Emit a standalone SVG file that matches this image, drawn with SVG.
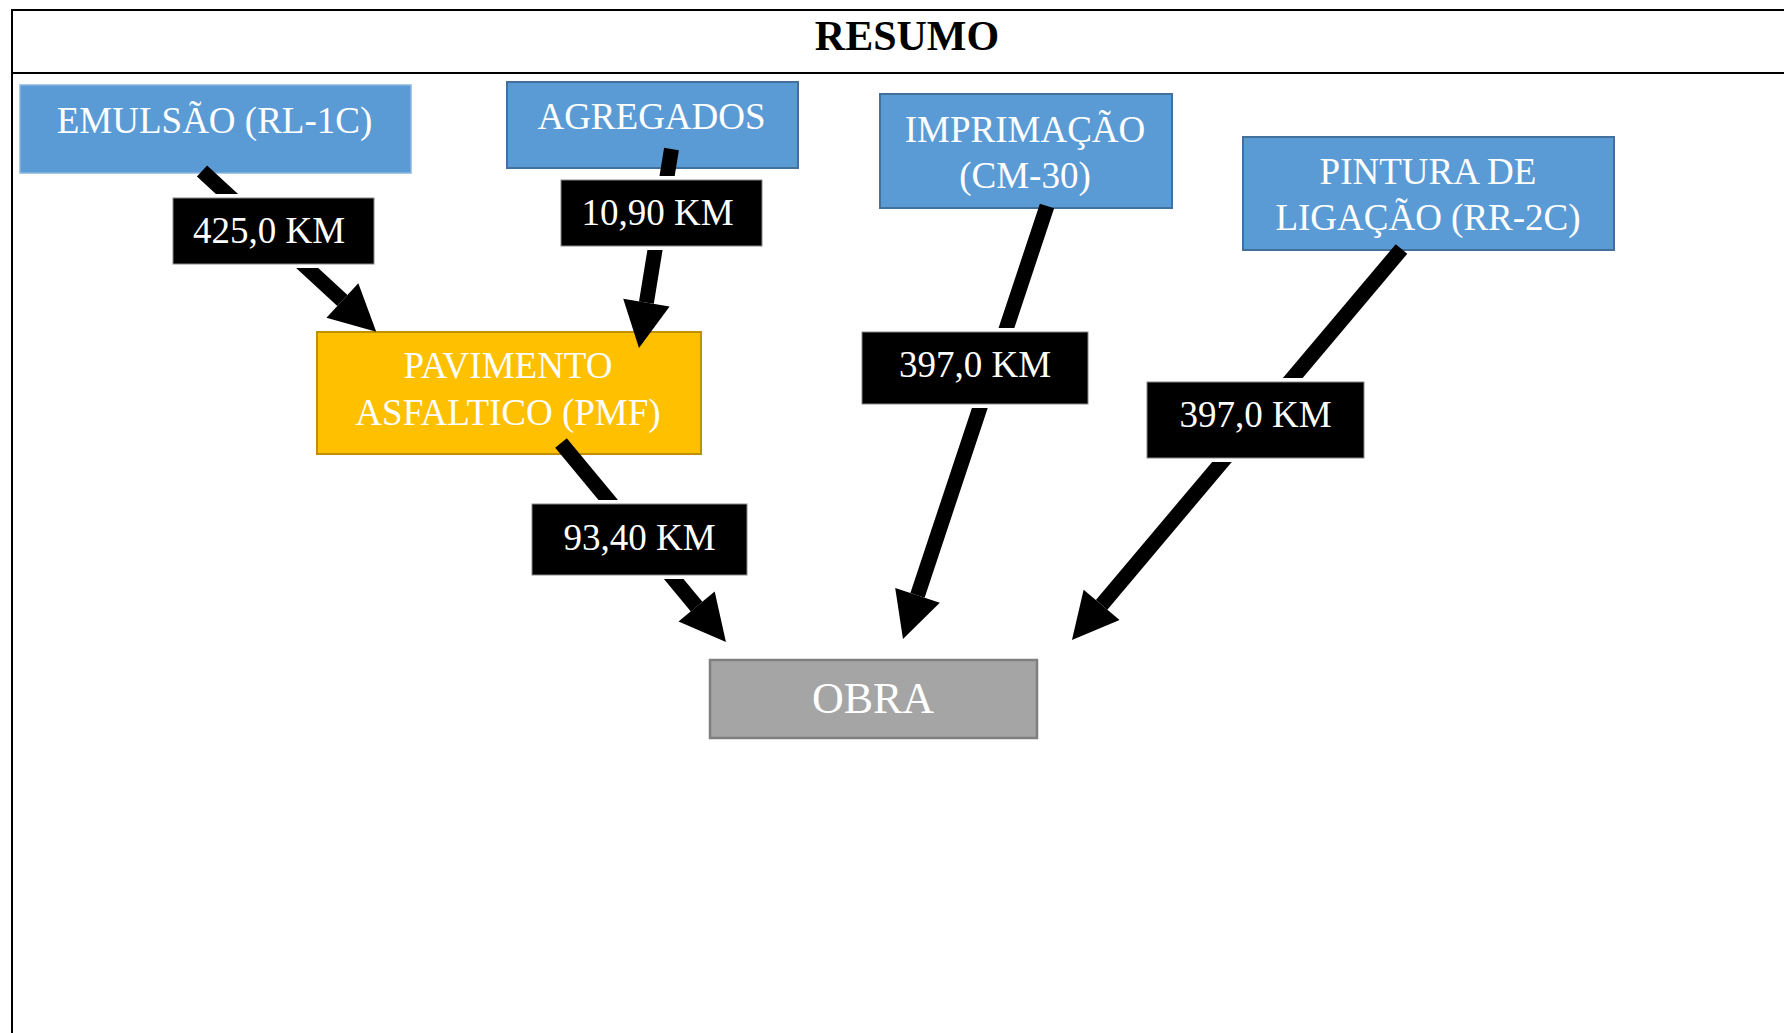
<svg xmlns="http://www.w3.org/2000/svg" width="1784" height="1033" viewBox="0 0 1784 1033">
<style>
.t{font-family:"Liberation Serif","Times New Roman",serif;fill:#fff;font-size:37px;text-anchor:middle}
.blue{fill:#5B9BD5;stroke:#41719C;stroke-width:2}
.lbl{fill:#000;stroke:#888;stroke-width:1}
.halo{fill:#fff}
.conn{stroke:#000;stroke-width:15;fill:none;marker-end:url(#ah)}
.frame{stroke:#000;stroke-width:2;fill:none}
</style>
<defs>
<marker id="ah" markerUnits="userSpaceOnUse" markerWidth="50" markerHeight="50" refX="0" refY="23.5" orient="auto" overflow="visible">
<path d="M0,0 L46,23.5 L0,47 Z" fill="#000"/>
</marker>
</defs>
<rect width="1784" height="1033" fill="#fff"/>
<g id="frame">
<line class="frame" x1="11" y1="10" x2="1784" y2="10"/>
<line class="frame" x1="11" y1="73" x2="1784" y2="73"/>
<line class="frame" x1="12" y1="9" x2="12" y2="1033"/>
<text x="907" y="50" style="font-family:'Liberation Serif','Times New Roman',serif;font-size:42px;font-weight:bold;text-anchor:middle;fill:#000">RESUMO</text>
</g>
<g id="n-emulsao">
<rect x="20" y="85" width="391" height="88" fill="#5B9BD5" stroke="#8DB6E0" stroke-width="1.5"/>
<text class="t" x="214.5" y="133">EMULSÃO (RL-1C)</text>
</g>
<g id="n-agregados">
<rect class="blue" x="507" y="82" width="291" height="86"/>
<text class="t" x="651.5" y="129">AGREGADOS</text>
</g>
<g id="n-imprimacao">
<rect class="blue" x="880" y="94" width="292" height="114"/>
<text class="t" x="1025" y="142">IMPRIMAÇÃO</text>
<text class="t" x="1025" y="188">(CM-30)</text>
</g>
<g id="n-pintura">
<rect class="blue" x="1243" y="137" width="371" height="113"/>
<text class="t" x="1428" y="184">PINTURA DE</text>
<text class="t" x="1428" y="230">LIGAÇÃO (RR-2C)</text>
</g>
<g id="n-pavimento">
<rect x="317" y="332" width="384" height="122" fill="#FFC000" stroke="#BF9000" stroke-width="2"/>
<text class="t" x="508" y="378">PAVIMENTO</text>
<text class="t" x="508" y="425">ASFALTICO (PMF)</text>
</g>
<g id="n-obra">
<rect x="710" y="660" width="327" height="78" fill="#A5A5A5" stroke="#7F7F7F" stroke-width="2.5"/>
<text class="t" x="873" y="713" style="font-size:44px">OBRA</text>
</g>
<g id="connectors">
<line class="conn" x1="202" y1="171" x2="342.4" y2="300.5"/>
<line class="conn" x1="671.5" y1="149" x2="646.4" y2="302.6"/>
<line class="conn" x1="561" y1="443" x2="696.6" y2="606.6"/>
<line class="conn" x1="1047" y1="206" x2="917.5" y2="595.3"/>
<line class="conn" x1="1401.5" y1="249" x2="1101.6" y2="604.8"/>
</g>
<g id="l-425">
<rect class="halo" x="169" y="194" width="209" height="74"/>
<rect class="lbl" x="173" y="198" width="201" height="66"/>
<text class="t" x="269" y="243">425,0 KM</text>
</g>
<g id="l-1090">
<rect class="halo" x="557" y="176" width="209" height="74"/>
<rect class="lbl" x="561" y="180" width="201" height="66"/>
<text class="t" x="657.5" y="225">10,90 KM</text>
</g>
<g id="l-9340">
<rect class="halo" x="528" y="500" width="223" height="79"/>
<rect class="lbl" x="532" y="504" width="215" height="71"/>
<text class="t" x="639.5" y="550">93,40 KM</text>
</g>
<g id="l-3970a">
<rect class="halo" x="858" y="328" width="234" height="80"/>
<rect class="lbl" x="862" y="332" width="226" height="72"/>
<text class="t" x="975" y="377">397,0 KM</text>
</g>
<g id="l-3970b">
<rect class="halo" x="1143" y="378" width="225" height="84"/>
<rect class="lbl" x="1147" y="382" width="217" height="76"/>
<text class="t" x="1255.5" y="427">397,0 KM</text>
</g>
</svg>
